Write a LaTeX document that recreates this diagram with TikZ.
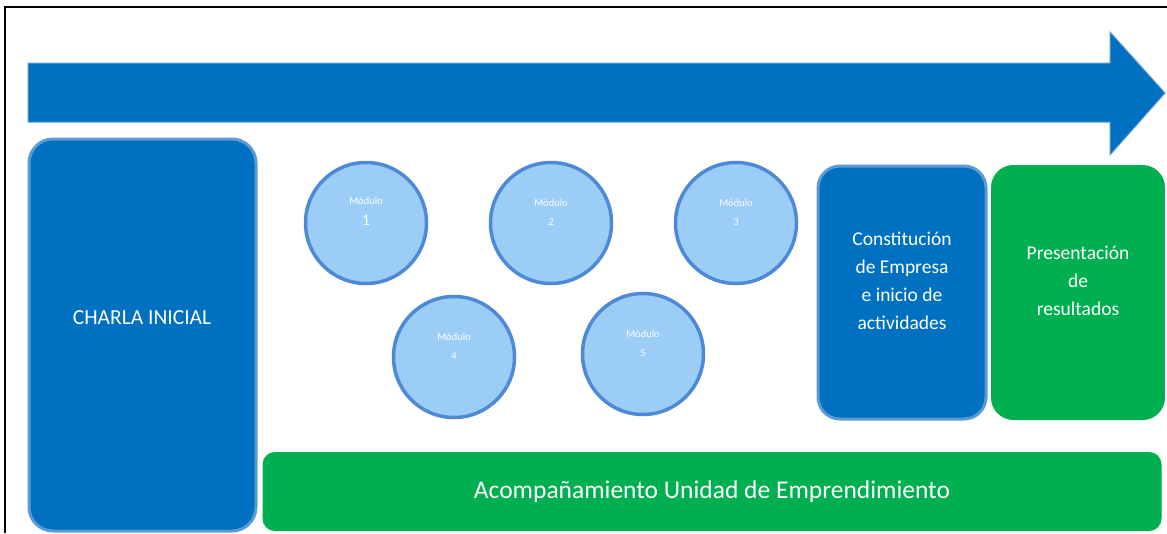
\documentclass[tikz,border=0pt]{standalone}
\usepackage{fontspec}
\setmainfont{Carlito}
\usepackage{tikz}
\usetikzlibrary{calc}
\definecolor{darkblue}{HTML}{0070C0}
\definecolor{edgeblue}{HTML}{5B9BD5}
\definecolor{lightblue}{HTML}{9BCDF7}
\definecolor{ringblue}{HTML}{4D89D6}
\definecolor{okgreen}{HTML}{00B050}
\begin{document}
\begin{tikzpicture}[x=1pt,y=-1pt]
    \tikzstyle{bluebox}=[draw=edgeblue,line width=3pt,fill=darkblue,rounded corners=24pt,inner sep=0pt]
    \tikzstyle{greenbox}=[draw=okgreen,line width=1pt,fill=okgreen,rounded corners=24pt,inner sep=0pt]
    \tikzstyle{modulo}=[draw=ringblue,line width=3.5pt,fill=lightblue,circle,minimum size=121pt,inner sep=0pt]
    \tikzstyle{boxtext}=[text=white,align=center,font=\fontsize{19.5}{28}\selectfont]
    \useasboundingbox (0,0) rectangle (1167,533);
    % frame
    \draw[line width=2pt] (5,533) -- (5,7) -- (1167,7);
    % long arrow
    \draw[fill=darkblue,draw=edgeblue,line width=1pt] (28,63) -- (1110,63) -- (1110,32) -- (1165,93)
        -- (1110,155) -- (1110,122) -- (28,122) -- cycle;
    % first step
    \node[bluebox,minimum width=227pt,minimum height=392pt] (charla) at (142.5,335) {};
    \node[text=white,font=\fontsize{21.5}{24}\selectfont] (charlatxt) at (142,318) {CHARLA INICIAL};
    % modules
    \foreach \n/\x/\y in {1/366/223,2/551/223,3/736/223,4/454/357,5/643/354}{
        \node[modulo] (m\n) at (\x,\y) {};
    }
    \node[text=white,align=center,font=\fontsize{10.5}{21}\selectfont] (m1txt) at ($(m1.center)+(0,-12)$)
        {Módulo\\{\fontsize{16}{16}\selectfont 1}};
    \foreach \n in {2,3,4,5}{
        \node[text=white,align=center,font=\fontsize{10.5}{19}\selectfont] (m\n txt) at ($(m\n.center)+(0,-11)$)
            {Módulo\\\n};
    }
    % last steps
    \node[bluebox,rounded corners=22pt,minimum width=168pt,minimum height=253pt] (empresa) at (902,292.5) {};
    \node[boxtext] (empresatxt) at ($(empresa.center)+(0,-12)$)
        {Constitución\\de Empresa\\e inicio de\\actividades};
    \node[greenbox,rounded corners=22pt,minimum width=173pt,minimum height=254pt] (result) at (1078,292.5) {};
    \node[boxtext] (resulttxt) at ($(result.center)+(0,-12)$)
        {Presentación\\de\\resultados};
    % support bar
    \node[greenbox,rounded corners=12pt,minimum width=898pt,minimum height=78pt] (acomp) at (712,491.5)
        {\fontsize{25.5}{28}\selectfont\color{white}Acompañamiento Unidad de Emprendimiento};
\end{tikzpicture}
\end{document}
